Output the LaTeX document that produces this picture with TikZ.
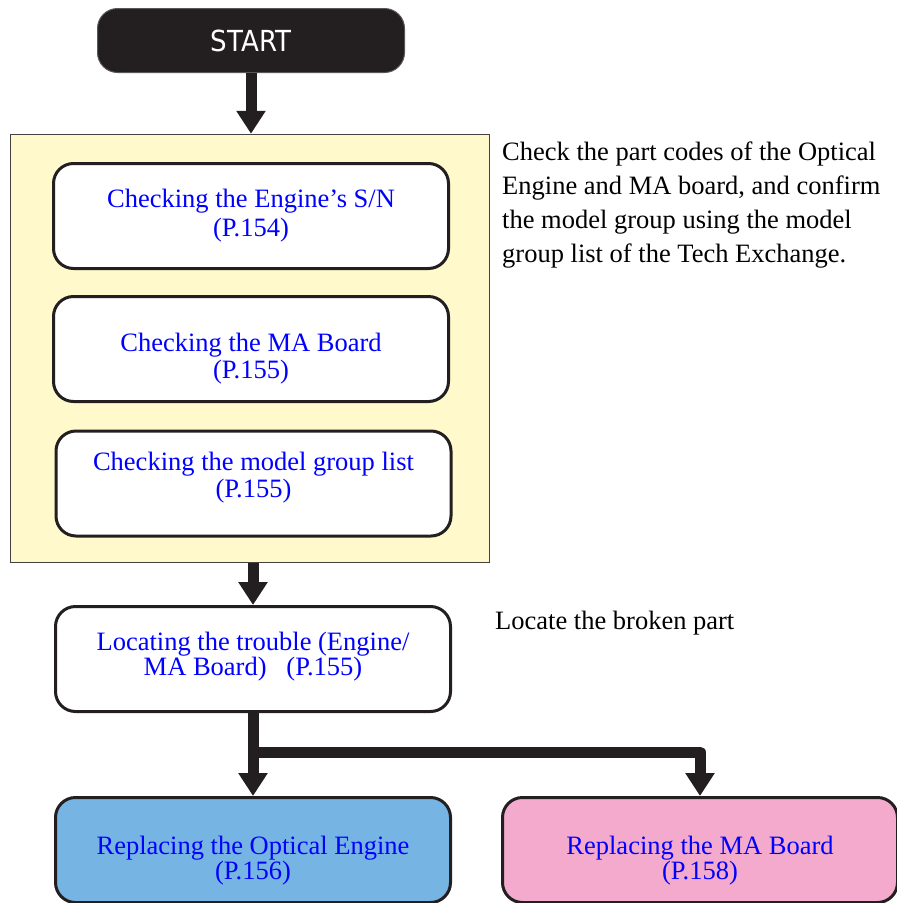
\documentclass[tikz,border=0pt]{standalone}
\usepackage{fontspec}
\setmainfont{Liberation Serif}
\newfontfamily\startfont[FakeStretch=0.9]{DejaVu Sans}
\usetikzlibrary{arrows.meta}
\definecolor{ink}{HTML}{231F20}
\definecolor{paleyellow}{HTML}{FFF9CC}
\definecolor{skyfill}{HTML}{75B4E3}
\definecolor{pinkfill}{HTML}{F4AACC}
\definecolor{linkblue}{HTML}{0000FF}
% #1 raise of first baseline above node centre, #2 extra line gap, #3 #4 the lines
\newcommand\twolines[4]{\smash{\raisebox{#1}{\begin{tabular}[t]{@{}c@{}}#3\\[#2]#4\end{tabular}}}}
\begin{document}
\begin{tikzpicture}[x=1pt,y=-1pt,
  stepbox/.style={draw=ink, line width=3pt, rounded corners=20pt, fill=white,
    minimum width=395pt, minimum height=105pt, inner sep=0pt, text=linkblue,
    font=\fontsize{26.5}{27.5}\selectfont},
  startbox/.style={draw=ink!75, line width=1pt, fill=ink, rounded corners=20pt,
    minimum width=307pt, minimum height=64pt, inner sep=0pt, text=white,
    font=\startfont\fontsize{29}{29}\selectfont},
  groupbox/.style={draw=ink!85, line width=1.5pt, fill=paleyellow,
    minimum width=479pt, minimum height=428pt, inner sep=0pt},
  arr/.style={draw=ink, line width=11pt, line join=round, -{Triangle[width=28pt,length=23pt]}},
  note/.style={inner sep=0pt, anchor=base west, text=black,
    font=\fontsize{26.5}{34}\selectfont}]
\useasboundingbox (0,0) rectangle (897,903);

\node[startbox] (start) at (251,40.5) {START};
\node[groupbox] (group) at (250,348.5) {};

\node[stepbox] (sn) at (251,216) {\twolines{9pt}{1.5pt}{Checking the Engine’s S/N}{(P.154)}};
\node[stepbox] (ma) at (251,349) {\twolines{-2.7pt}{-0.9pt}{Checking the MA Board}{(P.155)}};
\node[stepbox] (mg) at (253.5,483.5) {\twolines{13.5pt}{0.2pt}{Checking the model group list}{(P.155)}};
\node[stepbox] (loc) at (253,659) {\twolines{9pt}{-2.5pt}{Locating the trouble (Engine/}{MA Board)\ \ \ (P.155)}};
\node[stepbox, fill=skyfill] (re) at (253,850) {\twolines{-4pt}{-2.5pt}{Replacing the Optical Engine}{(P.156)}};
\node[stepbox, fill=pinkfill] (rm) at (700,850) {\twolines{-4pt}{-2.5pt}{Replacing the MA Board}{(P.158)}};

\node[note] (n1) at (502,160.5) {\begin{tabular}[t]{@{}l@{}}Check the part codes of the Optical\\Engine and MA board, and confirm\\the model group using the model\\group list of the Tech Exchange.\end{tabular}};
\node[note] (n2) at (495,629) {Locate the broken part};

\draw[arr] (start.south) -- (start.south |- group.north);
\draw[arr] (group.south -| loc.north) -- (loc.north);
\coordinate (split) at (253,752);
\draw[arr] (loc.south) -- (re.north);
\draw[arr] (split) -| (rm.north);
\end{tikzpicture}
\end{document}
